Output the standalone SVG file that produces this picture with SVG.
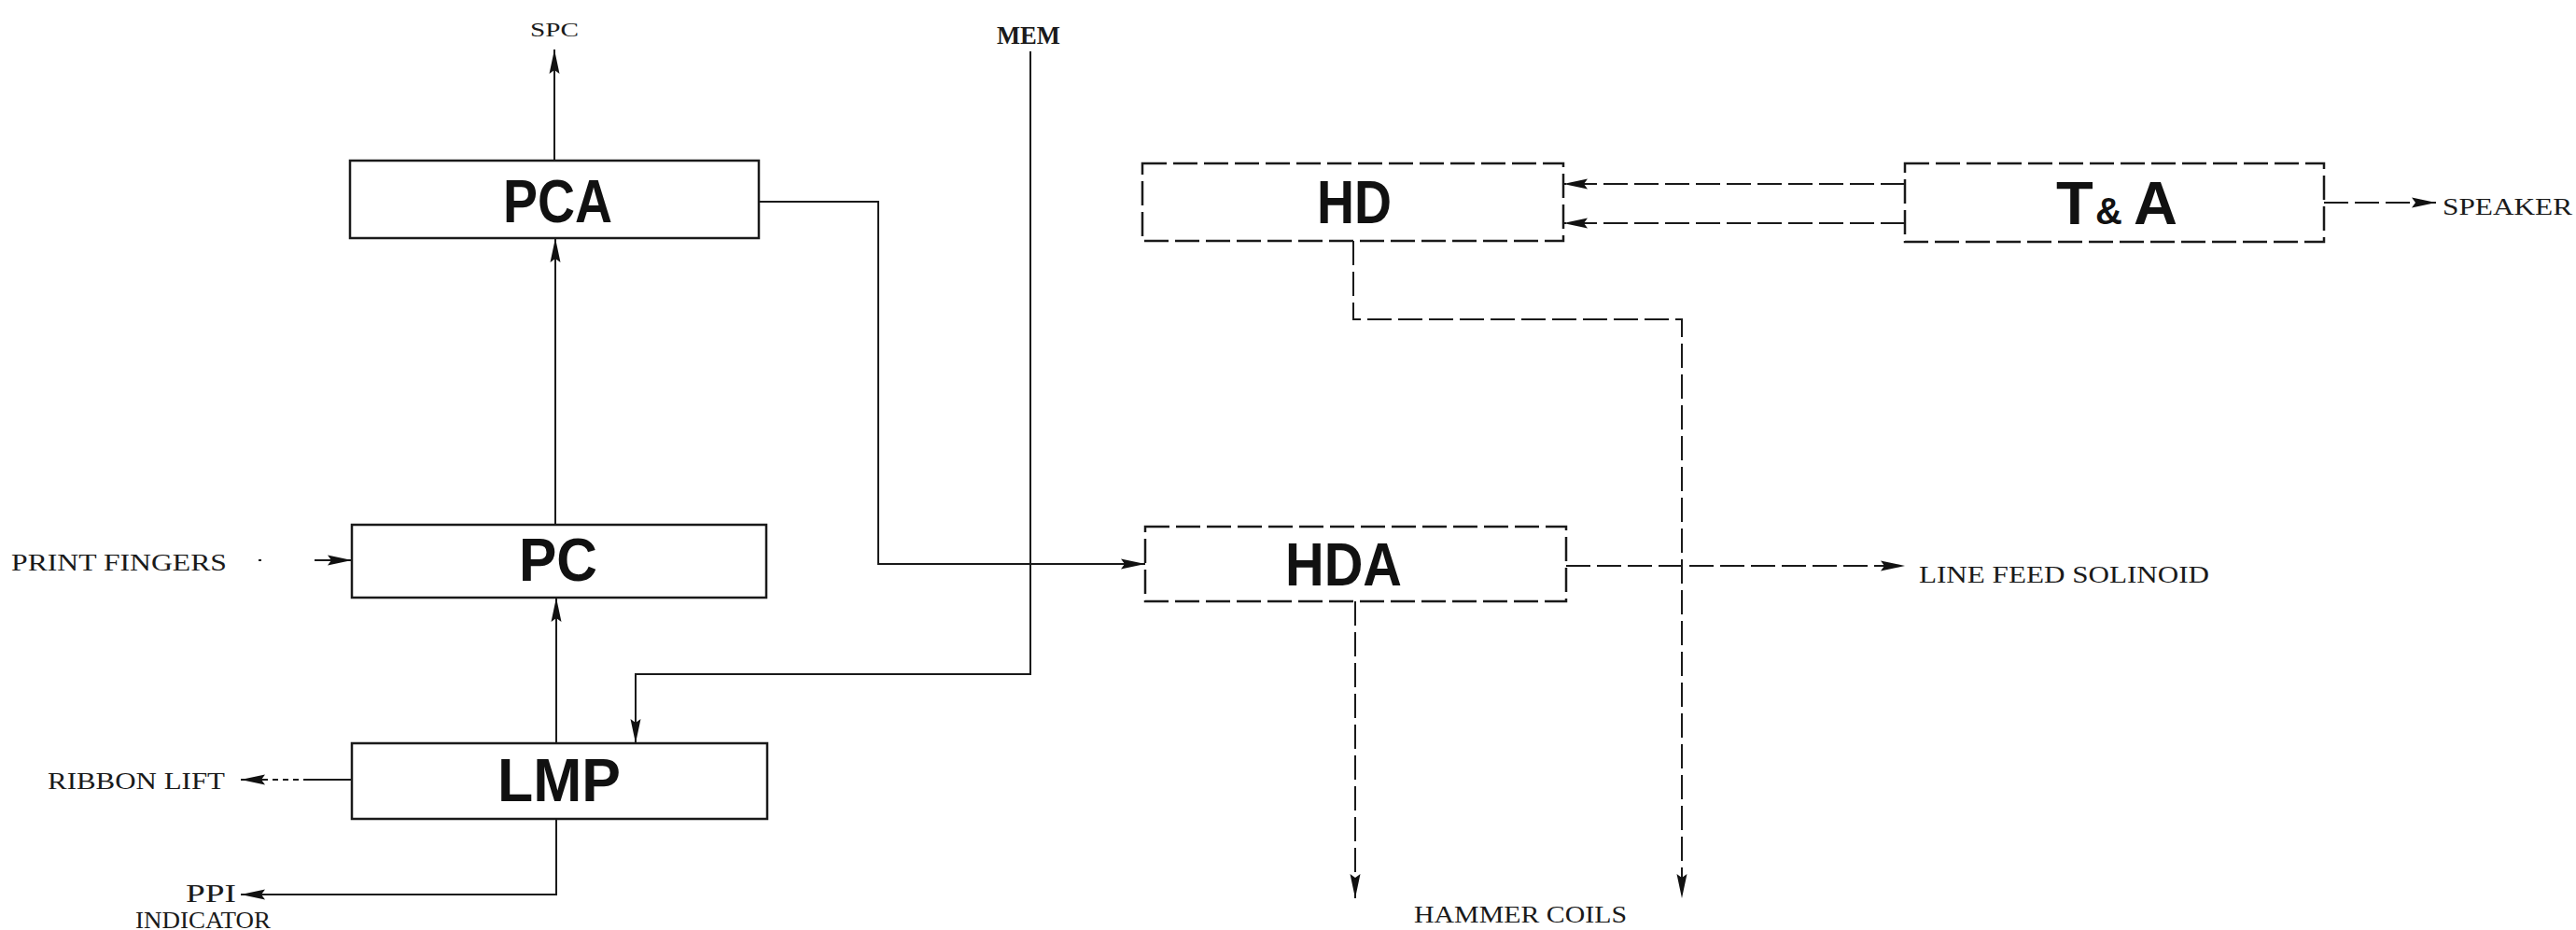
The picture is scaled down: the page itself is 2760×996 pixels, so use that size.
<svg xmlns="http://www.w3.org/2000/svg" width="2760" height="996" viewBox="0 0 2760 996">
<defs>
<marker id="ah" viewBox="0 0 26 12" refX="26" refY="6" markerWidth="26" markerHeight="12" orient="auto" markerUnits="userSpaceOnUse">
<path d="M0,0.5 L26,6 L0,11.5 L4,6 z" fill="#111"/>
</marker>
<style>
.box{fill:#fff;stroke:#1a1a1a;stroke-width:2.5}
.dbox{fill:#fff;stroke:#1a1a1a;stroke-width:2.5;stroke-dasharray:26 7}
.big{font-family:"Liberation Sans",Arial,sans-serif;font-weight:bold;font-size:65px;fill:#111}
.lbl{font-family:"Liberation Serif","Times New Roman",serif;font-size:26px;fill:#1a1a1a}
.ln{fill:none;stroke:#1a1a1a;stroke-width:2}
.dl{fill:none;stroke:#1a1a1a;stroke-width:2;stroke-dasharray:26 7}
</style>
</defs>
<rect width="2760" height="996" fill="#fff"/>

<g id="connectors">
<path class="ln" d="M594,172 V53" marker-end="url(#ah)"/>
<path class="ln" d="M595,562 V255" marker-end="url(#ah)"/>
<path class="ln" d="M596,796 V640" marker-end="url(#ah)"/>
<path class="ln" d="M277,600 H377" style="stroke-dasharray:3 57 40" marker-end="url(#ah)"/>
<path class="ln" d="M377,835 H258" style="stroke-dasharray:52 5 6 5 6 5 6 5 40" marker-end="url(#ah)"/>
<path class="ln" d="M596,877 V958 H258" marker-end="url(#ah)"/>
<path class="ln" d="M1104,55 V722 H681 V796" marker-end="url(#ah)"/>
<path class="ln" d="M813,216 H941 V604 H1227" marker-end="url(#ah)"/>
<path class="dl" d="M2041,197 H1675" marker-end="url(#ah)"/>
<path class="dl" d="M2041,239 H1675" marker-end="url(#ah)"/>
<path class="dl" d="M2490,217 H2610" marker-end="url(#ah)"/>
<path class="dl" d="M1450,258 V342 H1802 V962" marker-end="url(#ah)"/>
<path class="dl" d="M1452,644 V962" marker-end="url(#ah)"/>
<path class="dl" d="M1678,606 H2041" marker-end="url(#ah)"/>
</g>

<g id="node-pca">
<rect class="box" x="375" y="172" width="438" height="83"/>
<text class="big" x="539" y="238" textLength="117" lengthAdjust="spacingAndGlyphs">PCA</text>
</g>
<g id="node-pc">
<rect class="box" x="377" y="562" width="444" height="78"/>
<text class="big" x="556" y="622" textLength="84" lengthAdjust="spacingAndGlyphs">PC</text>
</g>
<g id="node-lmp">
<rect class="box" x="377" y="796" width="445" height="81"/>
<text class="big" x="533" y="858" textLength="132" lengthAdjust="spacingAndGlyphs">LMP</text>
</g>
<g id="node-hd">
<rect class="dbox" x="1224" y="175" width="451" height="83"/>
<text class="big" x="1411" y="239" textLength="80" lengthAdjust="spacingAndGlyphs">HD</text>
</g>
<g id="node-hda">
<rect class="dbox" x="1227" y="564" width="451" height="80"/>
<text class="big" x="1377" y="627" textLength="125" lengthAdjust="spacingAndGlyphs">HDA</text>
</g>
<g id="node-ta">
<rect class="dbox" x="2041" y="175" width="449" height="84"/>
<text class="big" y="240"><tspan x="2203">T</tspan><tspan x="2245" style="font-size:40px">&amp;</tspan><tspan x="2286">A</tspan></text>
</g>

<g id="labels">
<text class="lbl" x="568" y="39" style="font-size:21px" textLength="52" lengthAdjust="spacingAndGlyphs">SPC</text>
<text class="lbl" x="1068" y="47" style="font-size:27px;font-weight:bold" textLength="68" lengthAdjust="spacingAndGlyphs">MEM</text>
<text class="lbl" x="12" y="611" textLength="231" lengthAdjust="spacingAndGlyphs">PRINT FINGERS</text>
<text class="lbl" x="51" y="845" textLength="190" lengthAdjust="spacingAndGlyphs">RIBBON LIFT</text>
<text class="lbl" x="199" y="966" style="font-size:27px" textLength="54" lengthAdjust="spacingAndGlyphs">PPI</text>
<text class="lbl" x="145" y="994" textLength="145" lengthAdjust="spacingAndGlyphs">INDICATOR</text>
<text class="lbl" x="1515" y="988" textLength="228" lengthAdjust="spacingAndGlyphs">HAMMER COILS</text>
<text class="lbl" x="2056" y="624" textLength="311" lengthAdjust="spacingAndGlyphs">LINE FEED SOLINOID</text>
<text class="lbl" x="2617" y="230" textLength="139" lengthAdjust="spacingAndGlyphs">SPEAKER</text>
</g>
</svg>
